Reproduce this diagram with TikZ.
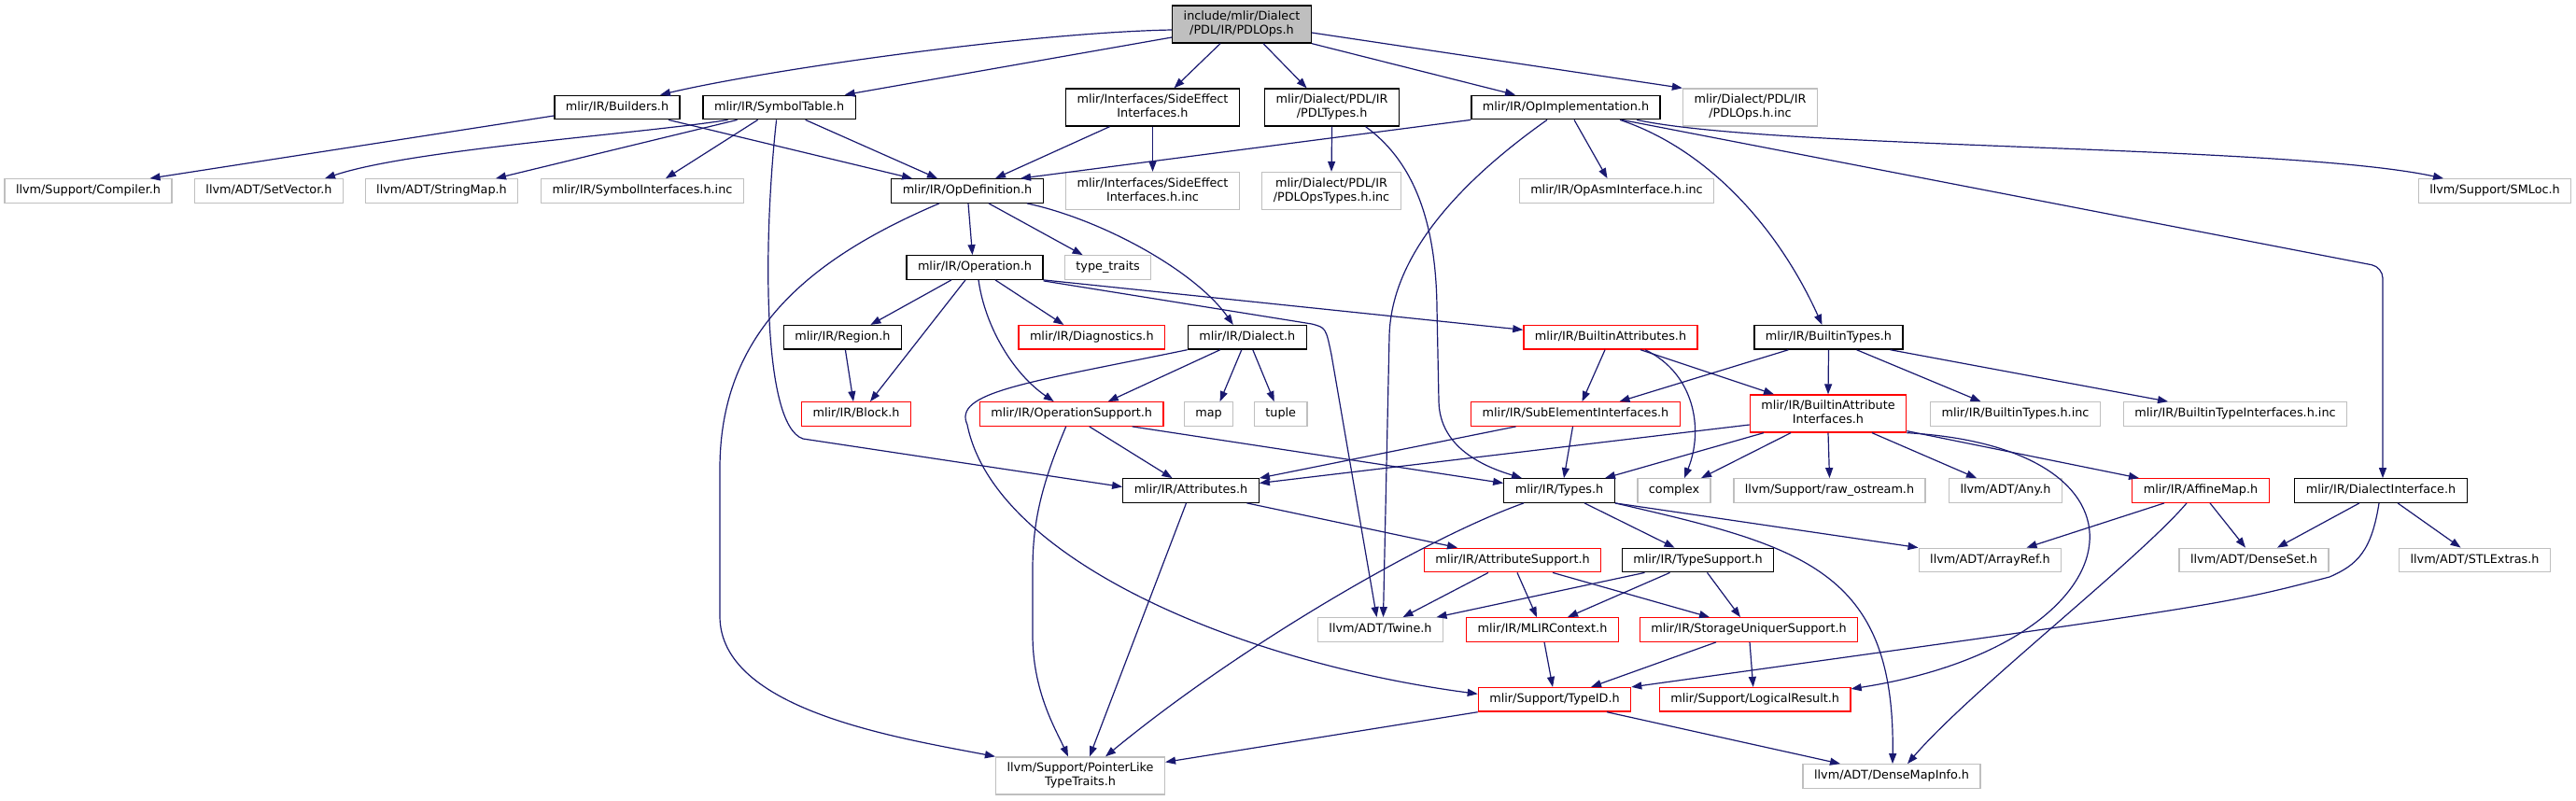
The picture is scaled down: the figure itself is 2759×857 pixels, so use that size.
\documentclass[tikz,border=0pt]{standalone}
\usepackage{fontspec}
\setmainfont{DejaVu Sans}
\usetikzlibrary{arrows.meta}
\definecolor{linkblue}{HTML}{191970}
\definecolor{boxgrey}{HTML}{BFBFBF}
\definecolor{cutred}{HTML}{FF0000}

\begin{document}
\begin{tikzpicture}[x=1pt,y=-1pt,>={Triangle[length=11pt,width=8pt]},
  box/.style={draw,line width=1.3pt,inner xsep=12pt,inner ysep=0pt,
    minimum height=25.5pt,text height=9.6pt,text depth=2.9pt,
    font=\fontsize{12.8}{15}\selectfont},
  two/.style={align=center,minimum height=40pt,text height=24.6pt},
  doc/.style={box,draw=black},
  ext/.style={box,draw=boxgrey},
  cut/.style={box,draw=cutred},
  focus/.style={doc,fill=boxgrey},
  dep/.style={->,draw=linkblue,line width=1.2pt}]
  \useasboundingbox[fill=white] (0,0) rectangle (2759,857);

  \node[focus,two] (main) at (1330,26) {include/mlir/Dialect\\/PDL/IR/PDLOps.h};
  \node[doc] (bld) at (661,115) {mlir/IR/Builders.h};
  \node[doc] (symt) at (834.6,115) {mlir/IR/SymbolTable.h};
  \node[doc,two] (sei) at (1234.5,115) {mlir/Interfaces/SideEffect\\Interfaces.h};
  \node[doc,two] (pdlt) at (1426.6,115) {mlir/Dialect/PDL/IR\\/PDLTypes.h};
  \node[doc] (opimpl) at (1677,115) {mlir/IR/OpImplementation.h};
  \node[ext,two] (pdlinc) at (1874.5,115) {mlir/Dialect/PDL/IR\\/PDLOps.h.inc};
  \node[ext] (comp) at (94.5,204.5) {llvm/Support/Compiler.h};
  \node[ext] (setv) at (288,204.5) {llvm/ADT/SetVector.h};
  \node[ext] (strm) at (473,204.5) {llvm/ADT/StringMap.h};
  \node[ext] (syminc) at (688,204.5) {mlir/IR/SymbolInterfaces.h.inc};
  \node[doc] (opdef) at (1036,204.5) {mlir/IR/OpDefinition.h};
  \node[ext,two] (seiinc) at (1234.5,204.5) {mlir/Interfaces/SideEffect\\Interfaces.h.inc};
  \node[ext,two] (pdltinc) at (1426,204.5) {mlir/Dialect/PDL/IR\\/PDLOpsTypes.h.inc};
  \node[ext] (asminc) at (1731.5,204.5) {mlir/IR/OpAsmInterface.h.inc};
  \node[ext] (smloc) at (2672,204.5) {llvm/Support/SMLoc.h};
  \node[doc] (oper) at (1044,286.5) {mlir/IR/Operation.h};
  \node[ext] (tt) at (1186.6,286.5) {type\_traits};
  \node[doc] (region) at (902.4,361.3) {mlir/IR/Region.h};
  \node[cut] (diag) at (1169.3,361.3) {mlir/IR/Diagnostics.h};
  \node[doc] (dial) at (1335.8,361.3) {mlir/IR/Dialect.h};
  \node[cut] (battr) at (1725,361.3) {mlir/IR/BuiltinAttributes.h};
  \node[doc] (btypes) at (1958.5,361.3) {mlir/IR/BuiltinTypes.h};
  \node[cut] (block) at (917,443.5) {mlir/IR/Block.h};
  \node[cut] (opsup) at (1147.7,443.5) {mlir/IR/OperationSupport.h};
  \node[ext] (map) at (1294.6,443.5) {map};
  \node[ext] (tuple) at (1371.7,443.5) {tuple};
  \node[cut] (subel) at (1687.5,443.5) {mlir/IR/SubElementInterfaces.h};
  \node[cut,two] (baif) at (1958,443) {mlir/IR/BuiltinAttribute\\Interfaces.h};
  \node[ext] (btinc) at (2158.5,443.5) {mlir/IR/BuiltinTypes.h.inc};
  \node[ext] (btiinc) at (2394,443.5) {mlir/IR/BuiltinTypeInterfaces.h.inc};
  \node[doc] (attrs) at (1275.5,525.5) {mlir/IR/Attributes.h};
  \node[doc] (types) at (1670,525.5) {mlir/IR/Types.h};
  \node[ext] (cplx) at (1793,525.5) {complex};
  \node[ext] (ostr) at (1959.5,525.5) {llvm/Support/raw\_ostream.h};
  \node[ext] (any) at (2148,525.5) {llvm/ADT/Any.h};
  \node[cut] (amap) at (2357,525.5) {mlir/IR/AffineMap.h};
  \node[doc] (dint) at (2550,525.5) {mlir/IR/DialectInterface.h};
  \node[cut] (attrsup) at (1620,600) {mlir/IR/AttributeSupport.h};
  \node[doc] (tsup) at (1818.5,600) {mlir/IR/TypeSupport.h};
  \node[ext] (aref) at (2131.5,600) {llvm/ADT/ArrayRef.h};
  \node[ext] (dset) at (2414,600) {llvm/ADT/DenseSet.h};
  \node[ext] (stle) at (2650.5,600) {llvm/ADT/STLExtras.h};
  \node[ext] (twine) at (1478.5,674.5) {llvm/ADT/Twine.h};
  \node[cut] (ctx) at (1652,674.5) {mlir/IR/MLIRContext.h};
  \node[cut] (suq) at (1873,674.5) {mlir/IR/StorageUniquerSupport.h};
  \node[cut] (tid) at (1665,749.3) {mlir/Support/TypeID.h};
  \node[cut] (lres) at (1879.7,749.3) {mlir/Support/LogicalResult.h};
  \node[ext,two] (ptl) at (1157,831) {llvm/Support/PointerLike\\TypeTraits.h};
  \node[ext] (dmi) at (2026,831.5) {llvm/ADT/DenseMapInfo.h};

  \draw[dep] ([yshift=-6pt]main.west) .. controls (1100,35) and (820,75) .. ([xshift=46pt]bld.north);
  \draw[dep] ([yshift=-14pt]main.west) -- ([xshift=70pt]symt.north);
  \draw[dep] ([xshift=-23pt]main.south) -- ([xshift=23pt]sei.north);
  \draw[dep] ([xshift=23pt]main.south) -- ([xshift=-27pt]pdlt.north);
  \draw[dep] (main.south east) -- ([xshift=-54pt]opimpl.north);
  \draw[dep] ([yshift=-9pt]main.east) -- (pdlinc.north west);
  \draw[dep] ([yshift=-9pt]bld.west) -- ([xshift=66pt]comp.north);
  \draw[dep] ([xshift=55pt]bld.south) -- ([xshift=-59pt]opdef.north);
  \draw[dep] ([xshift=-55pt]symt.south) .. controls (690,143) and (440,160) .. ([xshift=60pt]setv.north);
  \draw[dep] ([xshift=-45pt]symt.south) -- ([xshift=58pt]strm.north);
  \draw[dep] ([xshift=-23pt]symt.south) -- ([xshift=25pt]syminc.north);
  \draw[dep] ([xshift=28pt]symt.south) -- ([xshift=-32pt]opdef.north);
  \draw[dep] ([xshift=-3pt]symt.south) .. controls (818,250) and (815,455) .. (860,470) -- ([yshift=4pt]attrs.west);
  \draw[dep] ([xshift=-46pt]sei.south) -- ([xshift=30pt]opdef.north);
  \draw[dep] (sei.south) -- (seiinc.north);
  \draw[dep] (opimpl.south west) -- ([xshift=57pt]opdef.north);
  \draw[dep] (pdlt.south) -- (pdltinc.north);
  \draw[dep] ([xshift=36pt]pdlt.south) .. controls (1510,170) and (1538,230) .. (1539,330) -- (1541,430) .. controls (1542,480) and (1590,500) .. ([xshift=-40pt]types.north);
  \draw[dep] ([xshift=-20pt]opimpl.south) .. controls (1570,190) and (1490,270) .. (1488,360) -- ([xshift=3pt]twine.north);
  \draw[dep] ([xshift=9pt]opimpl.south) -- ([xshift=-10pt]asminc.north);
  \draw[dep] ([xshift=58pt]opimpl.south) .. controls (1830,160) and (1905,245) .. ([xshift=-7pt]btypes.north);
  \draw[dep] ([xshift=76pt]opimpl.south) .. controls (1900,160) and (2450,155) .. ([xshift=-55pt]smloc.north);
  \draw[dep,rounded corners=12pt] ([xshift=60pt]opimpl.south) -- (2552,286) -- ([xshift=2pt]dint.north);
  \draw[dep] ([xshift=1pt]opdef.south) -- ([xshift=-2.5pt]oper.north);
  \draw[dep] ([xshift=23pt]opdef.south) -- ([xshift=-27pt]tt.north);
  \draw[dep] ([xshift=64pt]opdef.south) .. controls (1180,235) and (1280,290) .. ([xshift=-15pt]dial.north);
  \draw[dep] ([xshift=-30pt]opdef.south) .. controls (860,280) and (772,360) .. (771,500) -- (771,660) .. controls (771,760) and (960,790) .. (ptl.north west);
  \draw[dep] ([xshift=-25pt]oper.south) -- ([xshift=30pt]region.north);
  \draw[dep] ([xshift=-10pt]oper.south) -- ([xshift=15pt]block.north);
  \draw[dep] ([xshift=4pt]oper.south) .. controls (1055,350) and (1085,400) .. ([xshift=-19pt]opsup.north);
  \draw[dep] ([xshift=22pt]oper.south) -- ([xshift=-30pt]diag.north);
  \draw[dep] (oper.south east) -- ([yshift=8pt]battr.west);
  \draw[dep] ([yshift=-1pt]oper.south east) -- (1405,347) .. controls (1420,351) .. (1426,380) -- ([xshift=-4pt]twine.north);
  \draw[dep] ([xshift=3pt]region.south) -- ([xshift=-3pt]block.north);
  \draw[dep] ([xshift=-29pt]dial.south) -- ([xshift=39pt]opsup.north);
  \draw[dep] ([xshift=-6pt]dial.south) -- ([xshift=12pt]map.north);
  \draw[dep] ([xshift=6pt]dial.south) -- ([xshift=-7pt]tuple.north);
  \draw[dep] (dial.south west) .. controls (1100,410) and (1020,420) .. (1036,455) .. controls (1065,600) and (1330,710) .. ([yshift=6pt]tid.west);
  \draw[dep] ([xshift=19pt]opsup.south) -- ([xshift=-20pt]attrs.north);
  \draw[dep] ([xshift=-6pt]opsup.south) .. controls (1115,520) and (1106,560) .. (1106,610) -- (1106,680) .. controls (1106,740) and (1130,780) .. ([xshift=-13pt]ptl.north);
  \draw[dep] ([xshift=65pt]opsup.south) -- ([yshift=8pt]types.west);
  \draw[dep] ([xshift=-6pt]battr.south) -- ([xshift=7pt]subel.north);
  \draw[dep] ([xshift=32pt]battr.south) -- ([xshift=-58pt]baif.north);
  \draw[dep] ([xshift=37pt]battr.south) .. controls (1815,400) and (1825,460) .. ([xshift=11pt]cplx.north);
  \draw[dep] ([xshift=-43pt]btypes.south) -- ([xshift=47pt]subel.north);
  \draw[dep] (btypes.south) -- (baif.north);
  \draw[dep] ([xshift=30pt]btypes.south) -- ([xshift=-37pt]btinc.north);
  \draw[dep] ([xshift=66pt]btypes.south) -- ([xshift=-72pt]btiinc.north);
  \draw[dep] ([xshift=-64pt]subel.south) -- (attrs.north east);
  \draw[dep] ([xshift=-3pt]subel.south) -- ([xshift=5pt]types.north);
  \draw[dep] ([yshift=-12pt]baif.west) -- ([yshift=8pt]attrs.east);
  \draw[dep] ([xshift=-69pt]baif.south) -- ([xshift=49pt]types.north);
  \draw[dep] ([xshift=-40pt]baif.south) -- ([xshift=29pt]cplx.north);
  \draw[dep] (baif.south) -- (ostr.north);
  \draw[dep] ([xshift=47pt]baif.south) -- ([xshift=-31pt]any.north);
  \draw[dep] ([yshift=2pt]baif.south east) -- ([xshift=-66pt]amap.north);
  \draw[dep] (baif.south east) .. controls (2330,480) and (2290,690) .. ([yshift=-2pt]lres.north east);
  \draw[dep] ([xshift=60pt]attrs.south) -- ([xshift=-59pt]attrsup.north);
  \draw[dep] ([xshift=-5pt]attrs.south) -- ([xshift=10pt]ptl.north);
  \draw[dep] ([xshift=27pt]types.south) -- ([xshift=-25pt]tsup.north);
  \draw[dep] ([xshift=-38pt]types.south) .. controls (1530,575) and (1330,690) .. ([xshift=27pt]ptl.north);
  \draw[dep] (types.south east) -- (aref.north west);
  \draw[dep] (types.south east) .. controls (1930,585) and (2030,610) .. ([xshift=1pt]dmi.north);
  \draw[dep] ([xshift=-26pt]attrsup.south) -- ([xshift=24pt]twine.north);
  \draw[dep] ([xshift=5pt]attrsup.south) -- ([xshift=-6pt]ctx.north);
  \draw[dep] ([xshift=43pt]attrsup.south) -- ([xshift=-42pt]suq.north);
  \draw[dep] ([xshift=-57pt]tsup.south) -- ([xshift=60pt]twine.north);
  \draw[dep] ([xshift=-30pt]tsup.south) -- ([xshift=27pt]ctx.north);
  \draw[dep] ([xshift=10pt]tsup.south) -- ([xshift=-9pt]suq.north);
  \draw[dep] ([xshift=2pt]ctx.south) -- ([xshift=-2pt]tid.north);
  \draw[dep] ([xshift=-35pt]suq.south) -- ([xshift=39pt]tid.north);
  \draw[dep] ([xshift=1pt]suq.south) -- ([xshift=-2pt]lres.north);
  \draw[dep] (tid.south west) -- ([yshift=-6pt]ptl.north east);
  \draw[dep] ([xshift=56pt]tid.south) -- ([xshift=-55pt]dmi.north);
  \draw[dep] ([xshift=-39pt]amap.south) -- ([xshift=39pt]aref.north);
  \draw[dep] ([xshift=10pt]amap.south) -- ([xshift=-9pt]dset.north);
  \draw[dep] ([xshift=-15pt]amap.south) .. controls (2290,600) and (2110,740) .. ([xshift=17pt]dmi.north);
  \draw[dep] ([xshift=-23pt]dint.south) -- ([xshift=25pt]dset.north);
  \draw[dep] ([xshift=18pt]dint.south) -- ([xshift=-15pt]stle.north);
  \draw[dep] ([xshift=-2pt]dint.south) .. controls (2540,590) and (2525,605) .. (2495,618) .. controls (2380,648) .. (tid.north east);
\end{tikzpicture}
\end{document}
